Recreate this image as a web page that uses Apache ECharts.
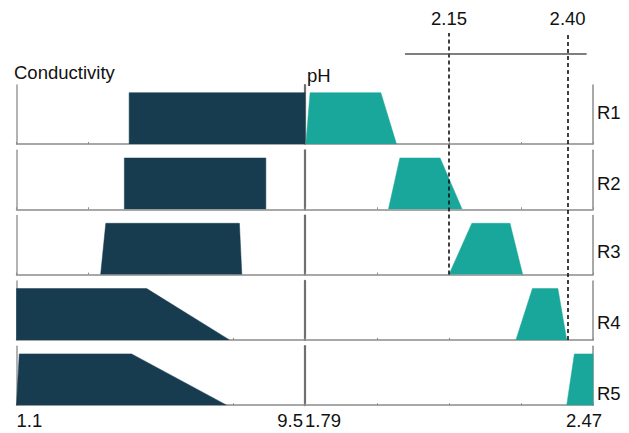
<!DOCTYPE html>
<html>
<head>
<meta charset="utf-8">
<script src="https://cdn.jsdelivr.net/npm/echarts@6/dist/echarts.min.js"></script>
<style>html,body{margin:0;padding:0;background:#fff}#c{width:629px;height:433px}</style>
</head>
<body>
<div id="c"></div>
<script>
// ---- data ----
const rowNames = ['R1', 'R2', 'R3', 'R4', 'R5'];
const condRange = [1.1, 9.5];
const phRange = [1.79, 2.47];
const condTickStep = 2.1;
const phTickStep = 0.17;
const membership = [0, 1, 1, 0];
const condPoints = [
  [4.38, 4.38, 9.5, 9.5],
  [4.24, 4.24, 8.36, 8.36],
  [3.55, 3.70, 7.59, 7.66],
  [1.1, 1.1, 4.89, 7.30],
  [1.1, 1.18, 4.45, 7.22]
];
const phPoints = [
  [1.792, 1.802, 1.969, 2.006],
  [1.987, 2.014, 2.109, 2.161],
  [2.130, 2.184, 2.274, 2.304],
  [2.288, 2.327, 2.387, 2.408],
  [2.408, 2.426, 2.47, 2.47]
];
const phCuts = [2.125, 2.41];
const phCutLabels = ['2.15', '2.40'];
const phCutLastRow = [2, 3];
const bracketRange = [2.026, 2.455];

// ---- layout / style ----
const FONT = 'Liberation Sans, Arial, sans-serif';
const FS = 18.5;
const DARK = '#173b4f', TEAL = '#1aa79b';
const rowTop = i => 85 + i * 65.3;
const rowH = 59;
const condLeft = 16.5, condW = 288.5, phLeft = 305, phW = 288;
const dashTop = 33;

const grids = [], xAxes = [], yAxes = [], series = [];
function near(a, b) { return Math.abs(a - b) < 1e-6; }

rowNames.forEach((name, i) => {
  const last = i === rowNames.length - 1;
  [['c', condLeft, condW, condRange, condTickStep, condPoints[i], DARK],
   ['p', phLeft, phW, phRange, phTickStep, phPoints[i], TEAL]].forEach(([k, left, w, range, step, pts, color]) => {
    const gi = grids.length;
    grids.push({left: left, top: rowTop(i), width: w, height: rowH});
    xAxes.push({
      type: 'value', gridIndex: gi, min: range[0], max: range[1], interval: step,
      splitLine: {show: false},
      axisLine: {show: true, onZero: false, lineStyle: {color: '#8c8c8c', width: 1.5}},
      axisTick: {show: true, inside: true, length: 2, lineStyle: {color: '#8c8c8c', width: 1}},
      axisLabel: {
        show: last, color: '#111', fontFamily: FONT, fontSize: FS, margin: 6,
        alignMinLabel: 'left', alignMaxLabel: k === 'c' ? 'right' : 'center',
        padding: k === 'c' ? [0, 2, 0, 0] : [0, 18, 0, 0],
        showMinLabel: true, showMaxLabel: true, hideOverlap: false,
        formatter: v => near(v, range[0]) ? String(range[0]) : (near(v, range[1]) ? String(range[1]) : '')
      }
    });
    yAxes.push({
      type: 'value', gridIndex: gi, min: 0, max: 1.15, position: 'left',
      splitLine: {show: false}, axisTick: {show: false}, axisLabel: {show: false},
      axisLine: {show: true, lineStyle: k === 'c' ? {color: '#9a9a9a', width: 1.5} : {color: '#707070', width: 2.2}}
    });
    series.push({
      type: 'line', xAxisIndex: gi, yAxisIndex: yAxes.length - 1,
      data: pts.map((x, j) => [x, membership[j]]),
      showSymbol: false, symbol: 'none', silent: true, z: 1,
      lineStyle: {width: 0.5, color: color}, areaStyle: {color: color, opacity: 1}
    });
    if (k === 'p') {
      yAxes.push({
        type: 'value', gridIndex: gi, min: 0, max: 1.15, position: 'right',
        splitLine: {show: false}, axisTick: {show: false}, axisLabel: {show: false},
        axisLine: {show: true, lineStyle: {color: '#8c8c8c', width: 1.5}}
      });
    }
  });
});

// overlay grids for dashed reference lines
phCuts.forEach((cut, j) => {
  const gi = grids.length;
  const bottomY = rowTop(phCutLastRow[j]) + rowH;
  grids.push({left: phLeft, top: dashTop, width: phW, height: bottomY - dashTop});
  xAxes.push({type: 'value', gridIndex: gi, min: phRange[0], max: phRange[1], show: false});
  yAxes.push({type: 'value', gridIndex: gi, min: 0, max: 1, show: false});
  series.push({
    type: 'line', xAxisIndex: gi, yAxisIndex: yAxes.length - 1, data: [], z: 5,
    markLine: {
      silent: true, symbol: 'none', animation: false,
      lineStyle: {type: [4, 3], color: '#111', width: 1.6},
      label: {show: true, position: 'end', distance: 5, formatter: phCutLabels[j], color: '#111', fontFamily: FONT, fontSize: FS},
      data: [{xAxis: cut}]
    }
  });
});
// bracket line across the top
{
  const gi = grids.length;
  grids.push({left: phLeft, top: 53.5, width: phW, height: 10});
  xAxes.push({type: 'value', gridIndex: gi, min: phRange[0], max: phRange[1], show: false});
  yAxes.push({type: 'value', gridIndex: gi, min: 0, max: 1, show: false});
  series.push({
    type: 'line', xAxisIndex: gi, yAxisIndex: yAxes.length - 1, data: [], z: 4,
    markLine: {
      silent: true, symbol: 'none', animation: false, label: {show: false},
      lineStyle: {type: 'solid', color: '#555', width: 1.5},
      data: [[{coord: [bracketRange[0], 1]}, {coord: [bracketRange[1], 1]}]]
    }
  });
}

const graphics = [
  {type: 'text', x: 14, y: 72.5, style: {text: 'Conductivity', font: FS + 'px ' + FONT, fill: '#111', verticalAlign: 'middle'}},
  {type: 'text', x: 307, y: 75, style: {text: 'pH', font: FS + 'px ' + FONT, fill: '#111', verticalAlign: 'middle'}}
];
const rLabelY = [112, 183, 251, 322, 393];
rowNames.forEach((n, i) => graphics.push({
  type: 'text', x: 597, y: rLabelY[i], style: {text: n, font: FS + 'px ' + FONT, fill: '#111', verticalAlign: 'middle'}
}));

const chart = echarts.init(document.getElementById('c'), null, {renderer: 'svg'});
chart.setOption({
  animation: false,
  backgroundColor: '#fff',
  grid: grids, xAxis: xAxes, yAxis: yAxes, series: series,
  graphic: graphics
});
</script>
</body>
</html>
